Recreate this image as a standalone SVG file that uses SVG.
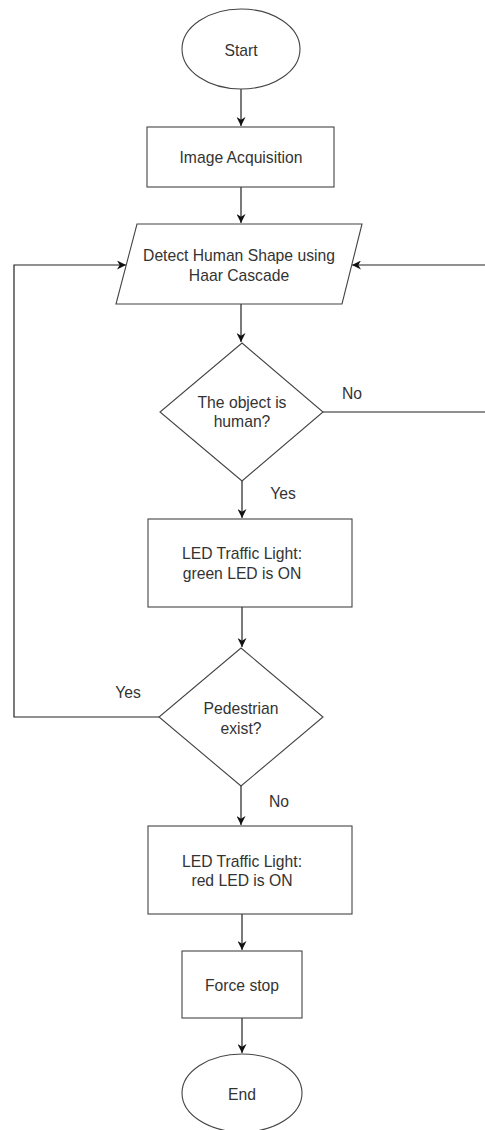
<svg xmlns="http://www.w3.org/2000/svg" width="485" height="1130" viewBox="0 0 485 1130">
<defs>
<marker id="arr" viewBox="0 0 10 10" refX="10" refY="5" markerWidth="9" markerHeight="9" markerUnits="userSpaceOnUse" orient="auto">
<path d="M0,0 L10,5 L0,10 L3,5 Z" fill="#111"/>
</marker>
<style>
.shape{fill:#fff;stroke:#444;stroke-width:1.1}
.conn{fill:none;stroke:#222;stroke-width:1.2}
text{font-family:"Liberation Sans",Arial,sans-serif;font-size:15.7px;fill:#333;text-anchor:middle;dominant-baseline:central}
</style>
</defs>
<rect width="485" height="1130" fill="#fff"/>
<g id="connectors">
<path class="conn" d="M241,89 V126" marker-end="url(#arr)"/>
<path class="conn" d="M241,187 V223" marker-end="url(#arr)"/>
<path class="conn" d="M241,304 V342" marker-end="url(#arr)"/>
<path class="conn" d="M323,412 H486 V265 H352" marker-end="url(#arr)"/>
<path class="conn" d="M242,481 V518" marker-end="url(#arr)"/>
<path class="conn" d="M242,607 V647" marker-end="url(#arr)"/>
<path class="conn" d="M159,717 H14 V265 H126" marker-end="url(#arr)"/>
<path class="conn" d="M241,786 V825" marker-end="url(#arr)"/>
<path class="conn" d="M242,914 V950" marker-end="url(#arr)"/>
<path class="conn" d="M242,1018 V1053" marker-end="url(#arr)"/>
<text x="352" y="393">No</text>
<text x="283" y="493">Yes</text>
<text x="128" y="692">Yes</text>
<text x="279" y="801">No</text>
</g>
<g id="start">
<ellipse class="shape" cx="241" cy="49" rx="59" ry="40"/>
<text x="241" y="50">Start</text>
</g>
<g id="acquisition">
<rect class="shape" x="147" y="127" width="187" height="60"/>
<text x="241" y="157">Image Acquisition</text>
</g>
<g id="detect">
<polygon class="shape" points="137,224 362,224 342,304 116,304"/>
<text x="239" y="255">Detect Human Shape using</text>
<text x="239" y="275">Haar Cascade</text>
</g>
<g id="is-human">
<polygon class="shape" points="242,343 323,412 242,481 160,412"/>
<text x="242" y="402">The object is</text>
<text x="242" y="421">human?</text>
</g>
<g id="green-led">
<rect class="shape" x="148" y="519" width="204" height="88"/>
<text x="242" y="553">LED Traffic Light:</text>
<text x="242" y="573">green LED is ON</text>
</g>
<g id="pedestrian">
<polygon class="shape" points="241,648 323,717 241,786 159,717"/>
<text x="241" y="708">Pedestrian</text>
<text x="241" y="728">exist?</text>
</g>
<g id="red-led">
<rect class="shape" x="148" y="826" width="204" height="88"/>
<text x="242" y="861">LED Traffic Light:</text>
<text x="242" y="880">red LED is ON</text>
</g>
<g id="force-stop">
<rect class="shape" x="182" y="951" width="120" height="67"/>
<text x="242" y="985">Force stop</text>
</g>
<g id="end">
<ellipse class="shape" cx="242" cy="1093" rx="60" ry="39"/>
<text x="242" y="1094">End</text>
</g>
</svg>
